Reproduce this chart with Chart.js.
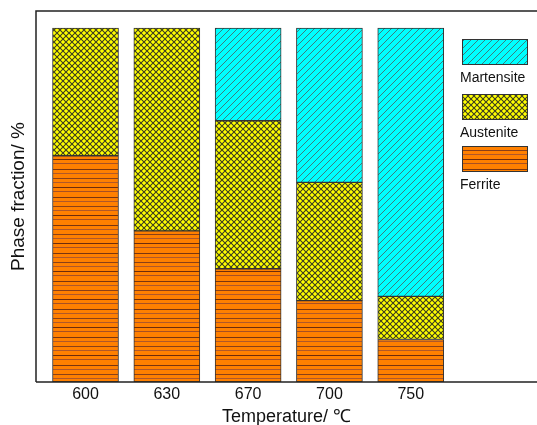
<!DOCTYPE html>
<html>
<head>
<meta charset="utf-8">
<script src="https://cdn.jsdelivr.net/npm/chart.js@4.4.1/dist/chart.umd.min.js"></script>
<style>
  html, body { margin: 0; padding: 0; background: #fff; }
  #wrap { width: 537px; height: 425px; }
</style>
</head>
<body>
<div id="wrap"><canvas id="myChart" width="537" height="425"></canvas></div>
<script>
// temperatures (categories) and phase fractions in %
var temps = ['600', '630', '670', '700', '750'];
var ferrite = [63.9, 42.7, 32.0, 23.0, 12.0];
var austenite = [36.1, 57.3, 41.8, 33.4, 12.2];
var martensite = [0, 0, 26.2, 43.6, 75.8];
var phaseNames = ['Ferrite', 'Austenite', 'Martensite'];

function makePattern(kind) {
    var c = document.createElement('canvas');
    var g = c.getContext('2d');
    if (kind === 'diag') {
        c.width = 7; c.height = 7;
        g.fillStyle = '#00FFFF';
        g.fillRect(0, 0, 7, 7);
        g.strokeStyle = '#3a7f7f';
        g.lineWidth = 1;
        g.beginPath();
        g.moveTo(-1, 8); g.lineTo(8, -1);
        g.moveTo(-1, 1); g.lineTo(1, -1);
        g.moveTo(6, 8); g.lineTo(8, 6);
        g.stroke();
    } else if (kind === 'cross') {
        c.width = 6; c.height = 6;
        g.fillStyle = '#FFFF00';
        g.fillRect(0, 0, 6, 6);
        g.strokeStyle = '#3c3c20';
        g.lineWidth = 1.1;
        g.beginPath();
        g.moveTo(0, 6); g.lineTo(6, 0);
        g.moveTo(0, 0); g.lineTo(6, 6);
        g.stroke();
    } else {
        c.width = 8; c.height = 28;
        g.fillStyle = '#FF8000';
        g.fillRect(0, 0, 8, 28);
        var rows = [[1, '#7a3510'], [5, '#b0582a'], [10, '#8a4018'], [14, '#b0582a'], [19, '#6e2c0c'], [23, '#a85024']];
        rows.forEach(function (r) {
            g.fillStyle = r[1];
            g.fillRect(0, r[0], 8, 1);
        });
    }
    return document.getElementById('myChart').getContext('2d').createPattern(c, 'repeat');
}

var fills = [makePattern('horiz'), makePattern('cross'), makePattern('diag')];

function toPoints(arr) {
    return arr.map(function (v, i) { return { x: i, y: v === 0 ? null : v }; });
}

var frame = {
    id: 'frame',
    afterDraw: function (chart) {
        var a = chart.chartArea, c = chart.ctx;
        c.save();
        c.strokeStyle = '#222';
        c.lineWidth = 1.5;
        c.beginPath();
        c.moveTo(a.left, a.bottom);
        c.lineTo(a.left, a.top);
        c.lineTo(chart.width, a.top);
        c.moveTo(a.left, a.bottom);
        c.lineTo(chart.width, a.bottom);
        c.stroke();
        c.restore();
    }
};

var sideLegend = {
    id: 'sideLegend',
    afterDraw: function (chart) {
        var c = chart.ctx;
        var boxes = [[39, 'Martensite', 2], [94, 'Austenite', 1], [146, 'Ferrite', 0]];
        c.save();
        boxes.forEach(function (b) {
            c.fillStyle = fills[b[2]];
            c.fillRect(462, b[0], 65, 25);
            c.strokeStyle = '#333';
            c.lineWidth = 1;
            c.strokeRect(462.5, b[0] + 0.5, 65, 25);
            c.fillStyle = '#111';
            c.font = '14px "Liberation Sans", Arial, sans-serif';
            c.textBaseline = 'alphabetic';
            c.fillText(b[1], 460, b[0] + 43);
        });
        c.restore();
    }
};

var ctx = document.getElementById('myChart').getContext('2d');
var myChart = new Chart(ctx, {
    type: 'bar',
    data: {
        datasets: [
            { label: phaseNames[0], data: toPoints(ferrite), backgroundColor: fills[0] },
            { label: phaseNames[1], data: toPoints(austenite), backgroundColor: fills[1] },
            { label: phaseNames[2], data: toPoints(martensite), backgroundColor: fills[2] }
        ]
    },
    options: {
        responsive: false,
        animation: false,
        layout: { padding: { left: 9, top: 11, right: 0, bottom: -1 } },
        datasets: {
            bar: { barThickness: 66, borderColor: '#333', borderWidth: 1, borderSkipped: false }
        },
        plugins: {
            legend: { display: false },
            tooltip: { enabled: false }
        },
        scales: {
            x: {
                type: 'linear',
                stacked: true,
                offset: false,
                min: -0.609,
                max: 5.553,
                grid: { display: false, drawTicks: false },
                border: { display: false },
                ticks: {
                    stepSize: 1,
                    autoSkip: false,
                    maxRotation: 0,
                    includeBounds: false,
                    padding: 5,
                    color: '#111',
                    font: { family: '"Liberation Sans", Arial, sans-serif', size: 16, lineHeight: 1 },
                    callback: function (v) {
                        return (Number.isInteger(v) && v >= 0 && v < temps.length) ? temps[v] : '';
                    }
                },
                title: {
                    display: true,
                    text: 'Temperature/ ℃',
                    color: '#111',
                    padding: { top: 0, bottom: 0 },
                    font: { family: '"Liberation Sans", Arial, sans-serif', size: 18, lineHeight: 1 }
                }
            },
            y: {
                stacked: true,
                min: 0,
                max: 104.8,
                grid: { display: false, drawTicks: false },
                border: { display: false },
                ticks: { display: false },
                title: {
                    display: true,
                    text: 'Phase fraction/ %',
                    color: '#111',
                    padding: { top: 0, bottom: 8 },
                    font: { family: '"Liberation Sans", Arial, sans-serif', size: 19, lineHeight: 1 }
                }
            }
        }
    },
    plugins: [frame, sideLegend]
});
</script>
</body>
</html>
